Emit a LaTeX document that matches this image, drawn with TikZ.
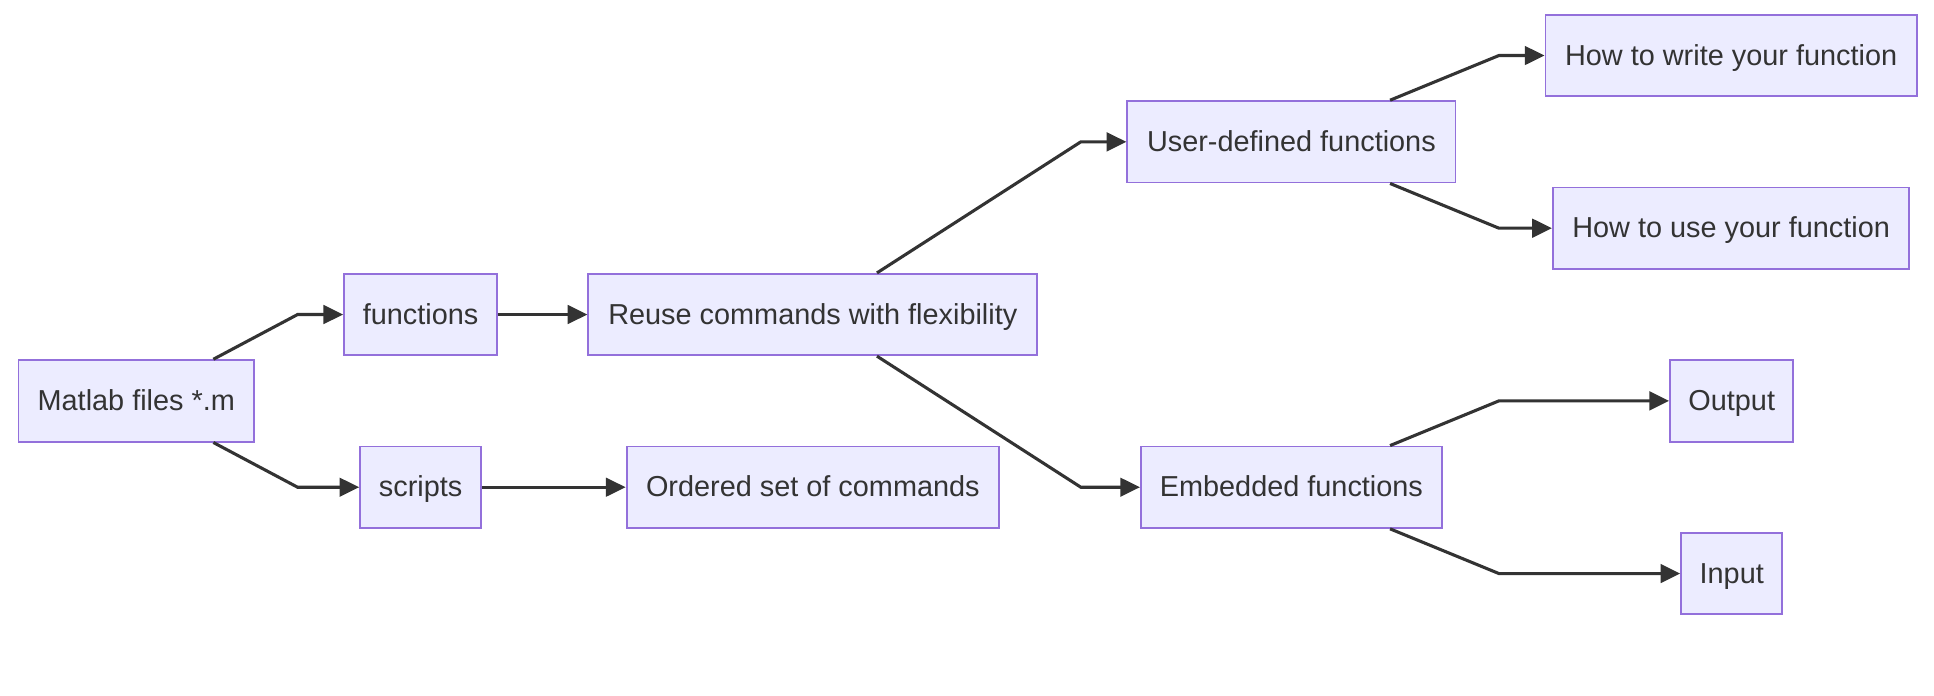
\documentclass[tikz,border=0pt]{standalone}
\usepackage{fontspec}
\setmainfont{Liberation Sans}
\usetikzlibrary{arrows.meta,calc}
\definecolor{boxfill}{HTML}{ECECFF}
\definecolor{boxdraw}{HTML}{9370DB}
\definecolor{ink}{HTML}{333333}
\begin{document}
\begin{tikzpicture}[x=0.5pt,y=-0.5pt,
  box/.style={draw=boxdraw,fill=boxfill,line width=0.75pt,minimum height=33pt,inner xsep=0pt,inner ysep=0pt,
    text height=0.98em,text depth=0.2em,
    text=ink,font=\fontsize{11.7}{14}\selectfont},
  edge/.style={draw=ink,line width=1.25pt,-{Triangle[length=8pt,width=7.5pt]}}]
\useasboundingbox (0,0) rectangle (1568,563.5);
\node[box,minimum width=95.5pt] (m) at (110.5,325) {Matlab files *.m};
\node[box,minimum width=62pt] (f) at (341,255) {functions};
\node[box,minimum width=49pt] (s) at (341,395) {scripts};
\node[box,minimum width=182pt] (r) at (659,255) {Reuse commands with flexibility};
\node[box,minimum width=151pt] (o) at (659,395) {Ordered set of commands};
\node[box,minimum width=133pt] (u) at (1047,115) {User-defined functions};
\node[box,minimum width=122pt] (e) at (1047,395) {Embedded functions};
\node[box,minimum width=150.5pt] (w) at (1403.5,45) {How to write your function};
\node[box,minimum width=144.5pt] (h) at (1403.5,185) {How to use your function};
\node[box,minimum width=50pt] (out) at (1404,325) {Output};
\node[box,minimum width=41pt] (in) at (1404,465) {Input};
\draw[edge] ($(m.north)+(62.5,0)$) -- ($(f.west)+(-37,0)$) -- (f.west);
\draw[edge] ($(m.south)+(62.5,0)$) -- ($(s.west)+(-50,0)$) -- (s.west);
\draw[edge] (f.east) -- (r.west);
\draw[edge] (s.east) -- (o.west);
\draw[edge] ($(r.north)+(52,0)$) -- ($(u.west)+(-37,0)$) -- (u.west);
\draw[edge] ($(r.south)+(52,0)$) -- ($(e.west)+(-48,0)$) -- (e.west);
\draw[edge] ($(u.north)+(80,0)$) -- ($(w.west)+(-37,0)$) -- (w.west);
\draw[edge] ($(u.south)+(80,0)$) -- ($(h.west)+(-43,0)$) -- (h.west);
\draw[edge] ($(e.north)+(80,0)$) -- ($(out.west)+(-138,0)$) -- (out.west);
\draw[edge] ($(e.south)+(80,0)$) -- ($(in.west)+(-147,0)$) -- (in.west);
\end{tikzpicture}
\end{document}
